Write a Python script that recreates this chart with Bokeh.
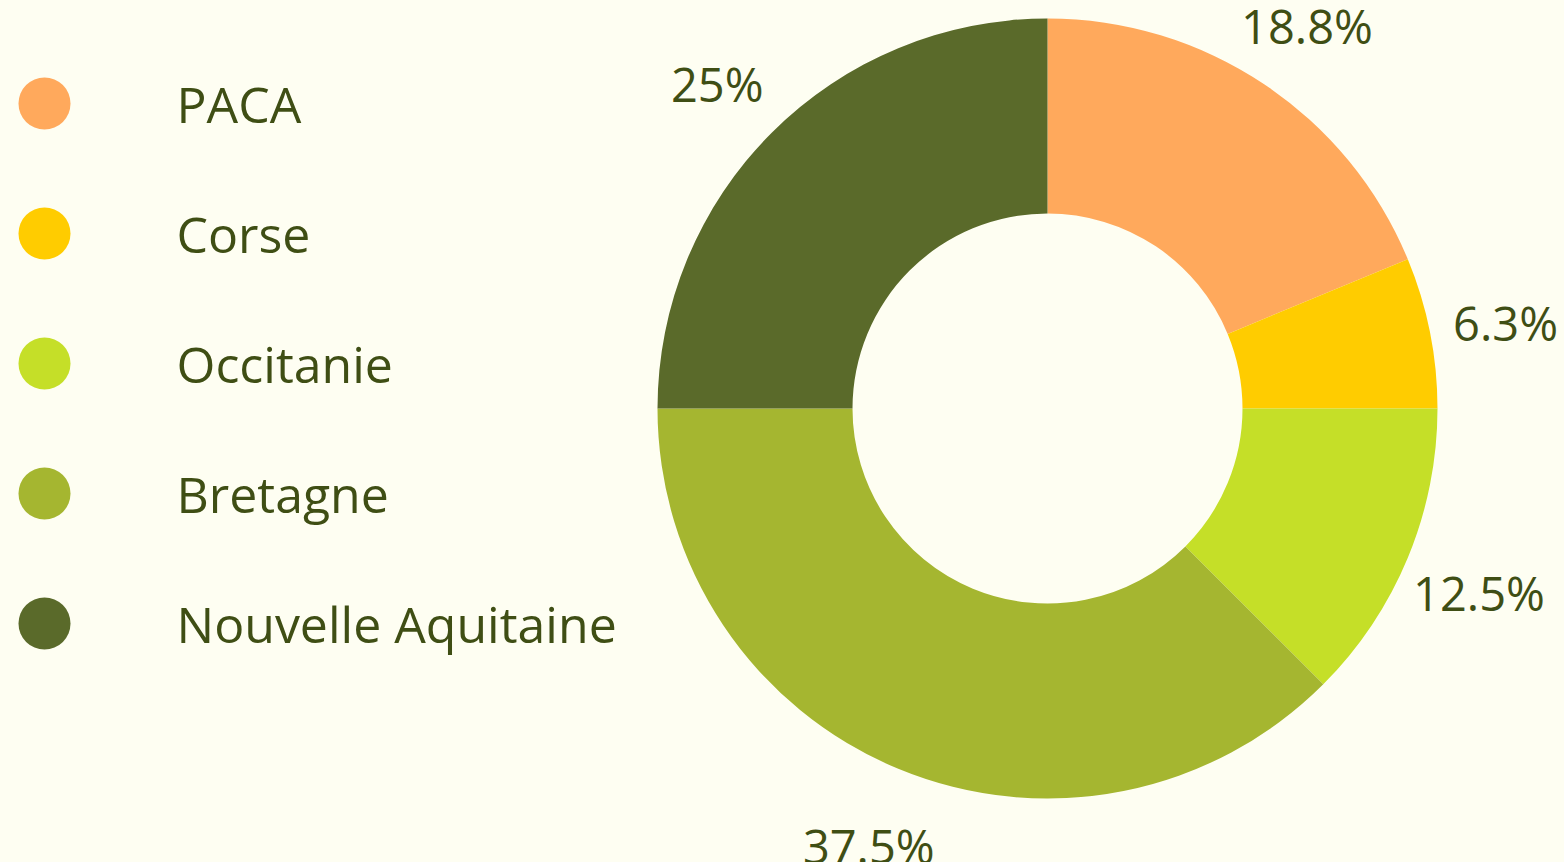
import math
from bokeh.plotting import figure
from bokeh.models import Range1d, ColumnDataSource
from bokeh.core.properties import value
from bokeh.embed import file_html
from bokeh.resources import INLINE

# ---- data ----
regions = ["PACA", "Corse", "Occitanie", "Bretagne", "Nouvelle Aquitaine"]
counts = [3, 1, 2, 6, 4]
pct_labels = ["18.8%", "6.3%", "12.5%", "37.5%", "25%"]
colors = ["#FFA95C", "#FFCC00", "#C5DF28", "#A5B630", "#5A6A2A"]

BG = "#FEFEF2"
TXT = "#3F4E14"
FONT = "Open Sans"

W, H = 1564, 862
p = figure(width=W, height=H, output_backend="svg", toolbar_location=None,
           x_range=Range1d(0, W), y_range=Range1d(0, H),
           min_border=0, background_fill_color=BG, border_fill_color=BG,
           outline_line_color=None)
p.axis.visible = False
p.grid.visible = False

def Y(page_y):
    return H - page_y

cx, cy = 1047, Y(408)
total = sum(counts)
starts, ends, lx, ly = [], [], [], []
cum = 0.0
for c in counts:
    f0 = cum / total
    cum += c
    f1 = cum / total
    starts.append(math.pi / 2 - 2 * math.pi * f0)
    ends.append(math.pi / 2 - 2 * math.pi * f1)
    mid = math.pi / 2 - 2 * math.pi * (f0 + f1) / 2
    lx.append(cx + 467 * math.cos(mid))
    ly.append(cy + 467 * math.sin(mid) - 6)

src = ColumnDataSource(dict(start=starts, end=ends, color=colors,
                            lx=lx, ly=ly, lab=pct_labels))
p.annular_wedge(x=cx, y=cy, inner_radius=195, outer_radius=390,
                start_angle="start", end_angle="end", direction="clock",
                fill_color="color", line_color=None, source=src)
p.text(x="lx", y="ly", text="lab", source=src, text_font=value(FONT),
       text_font_size="47px", text_color=TXT, text_align="center",
       text_baseline="middle")

# legend
ley = [Y(103 + 130 * i) for i in range(len(regions))]
lsrc = ColumnDataSource(dict(x=[44] * len(regions), tx=[176] * len(regions),
                             y=ley, color=colors, name=regions))
p.circle(x="x", y="y", radius=26, fill_color="color", line_color=None, source=lsrc)
p.text(x="tx", y="y", text="name", source=lsrc, text_font=value(FONT),
       text_font_size="50px", text_color=TXT, text_align="left",
       text_baseline="middle")

html = file_html(p, INLINE)
html = html.replace("<head>", "<head><style>body{background:#FEFEF2}</style>", 1)
open("out.html", "w").write(html)
